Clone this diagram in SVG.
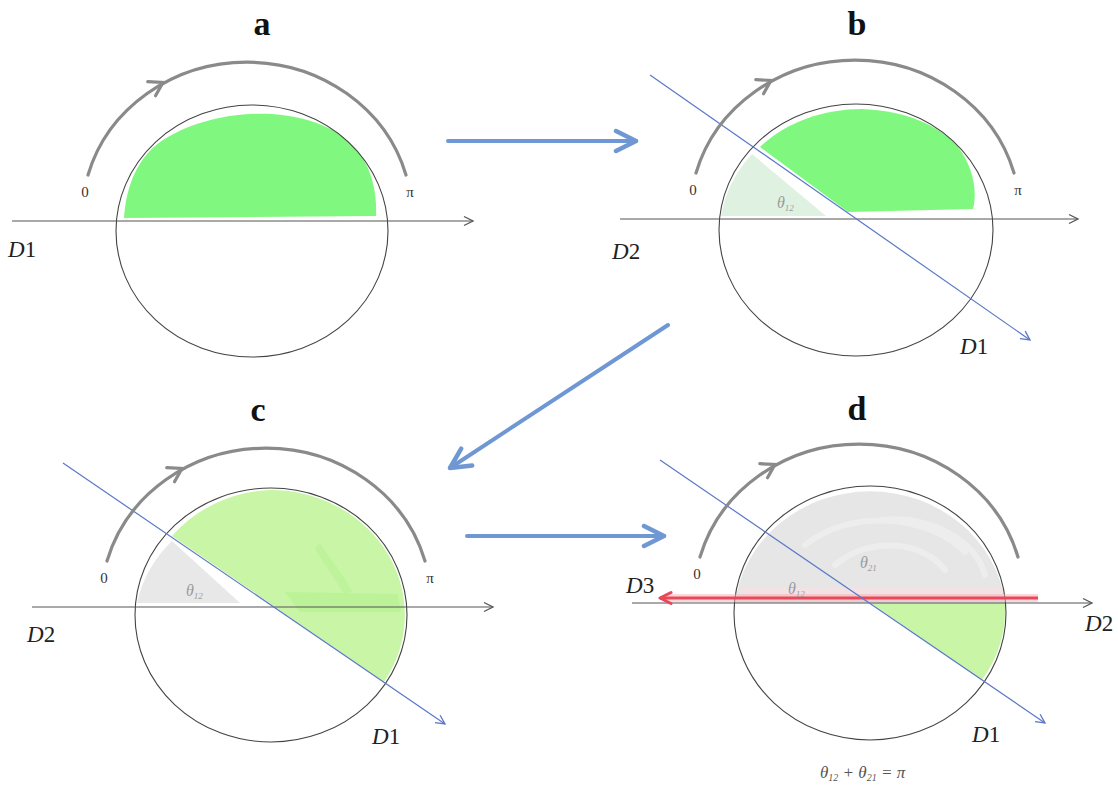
<svg xmlns="http://www.w3.org/2000/svg" width="1118" height="790" viewBox="0 0 1118 790">
<style>
.title{font-family:"Liberation Serif",serif;font-weight:bold;font-size:34px;fill:#111;text-anchor:middle}
.lbl{font-family:"Liberation Serif",serif;font-size:23px;fill:#222}
.tick{font-family:"Liberation Serif",serif;font-size:15px;fill:#333;text-anchor:middle}
.th{font-family:"Liberation Serif",serif;font-style:italic;font-size:16px;fill:#9a9a9a}
.eq{font-family:"Liberation Serif",serif;font-style:italic;font-size:17px;fill:#555}
.circ{fill:none;stroke:#444;stroke-width:1.1}
.axis{stroke:#555;stroke-width:1.2;fill:none;marker-end:url(#ax)}
.dline{stroke:#5a78c8;stroke-width:1.2;fill:none;marker-end:url(#bx)}
.rot{fill:none;stroke:#8a8a8a;stroke-width:3.2;stroke-linecap:round}
.flow{fill:none;stroke:#6f97d3;stroke-width:4;stroke-linecap:round;marker-end:url(#fa)}
.g1{fill:#80f87f}
.g2{fill:#c8f6a6}
</style>
<defs>
<marker id="ax" markerUnits="userSpaceOnUse" markerWidth="12" markerHeight="12" refX="10" refY="6" orient="auto"><path d="M1 1.5 L10 6 L1 10.5" fill="none" stroke="#555" stroke-width="1.3"/></marker>
<marker id="bx" markerUnits="userSpaceOnUse" markerWidth="12" markerHeight="12" refX="10" refY="6" orient="auto"><path d="M1 1.5 L10 6 L1 10.5" fill="none" stroke="#5a78c8" stroke-width="1.3"/></marker>
<marker id="ra" markerUnits="userSpaceOnUse" markerWidth="16" markerHeight="16" refX="13" refY="8" orient="auto"><path d="M2 2.5 L13 8 L2 13.5" fill="none" stroke="#e8485a" stroke-width="3" stroke-linejoin="round" stroke-linecap="round"/></marker>
<marker id="fa" markerUnits="userSpaceOnUse" markerWidth="30" markerHeight="30" refX="24" refY="13" orient="auto"><path d="M4 3 L24 13 L4 23" fill="none" stroke="#6f97d3" stroke-width="4.5" stroke-linejoin="round" stroke-linecap="round"/></marker>
<g id="rot">
<path class="rot" d="M -159 -46 A 165 154 0 0 1 159 -46"/>
<path class="rot" stroke-width="2.6" d="M -13 -8 L 0 0 L -13 8" transform="translate(-84 -138.6) rotate(-29)"/>
<text class="tick" x="-162" y="-24">0</text>
</g>
</defs>

<g id="panel-a">
<text class="title" x="262" y="35">a</text>
<path class="g1" d="M124 218 L376 216 C377 196 373 172 360 154 C344 132 315 117 272 114 C230 112 190 122 160 142 C138 158 126 185 124 218 Z"/>
<ellipse class="circ" cx="252" cy="231" rx="136" ry="126"/>
<line class="axis" x1="12" y1="221" x2="473" y2="221"/>
<use href="#rot" transform="translate(247 221)"/>
<text class="tick" x="410" y="197">π</text>
<text class="lbl" x="8" y="257"><tspan font-style="italic">D</tspan>1</text>
</g>

<g id="panel-b">
<text class="title" x="857" y="35">b</text>
<path fill="#dff2e2" d="M721 216 L826 216 L752 154 A137 126 0 0 0 721 216 Z"/>
<path class="g1" d="M760 147 L848 212 L973 209 C978 190 972 165 958 147 C938 124 905 111 862 109 C822 109 785 123 760 147 Z"/>
<ellipse class="circ" cx="856" cy="230" rx="137" ry="126"/>
<line class="axis" x1="620" y1="219" x2="1078" y2="219"/>
<line class="dline" x1="650" y1="75" x2="1030" y2="340"/>
<use href="#rot" transform="translate(855 219)"/>
<text class="tick" x="1018" y="195">π</text>
<text class="th" x="777" y="208">θ<tspan font-size="9" dy="3">12</tspan></text>
<text class="lbl" x="612" y="259"><tspan font-style="italic">D</tspan>2</text>
<text class="lbl" x="960" y="354"><tspan font-style="italic">D</tspan>1</text>
</g>

<g id="panel-c">
<text class="title" x="258" y="421">c</text>
<path fill="#e8e8e8" d="M137 603 L240 603 L172 541 A136 127 0 0 0 137 603 Z"/>
<path class="g2" d="M172 536 L384 682 A134 125 0 0 0 271 490 A134 125 0 0 0 172 536 Z"/>
<path fill="#b4f090" opacity="0.6" d="M285 592 L398 594 L401 612 L300 612 Z"/>
<path fill="#b4f090" opacity="0.5" d="M320 543 C330 560 345 575 352 592 L344 594 C335 578 322 562 315 548 Z"/>
<ellipse class="circ" cx="271" cy="615" rx="136" ry="127"/>
<line class="axis" x1="32" y1="607" x2="493" y2="607"/>
<line class="dline" x1="63" y1="463" x2="445" y2="724"/>
<use href="#rot" transform="translate(266 607)"/>
<text class="tick" x="430" y="583">π</text>
<text class="th" x="186" y="596">θ<tspan font-size="9" dy="3">12</tspan></text>
<text class="lbl" x="27" y="642"><tspan font-style="italic">D</tspan>2</text>
<text class="lbl" x="372" y="744"><tspan font-style="italic">D</tspan>1</text>
</g>

<g id="panel-d">
<text class="title" x="857" y="420">d</text>
<path fill="#e6e6e6" d="M735 603 A136 127 0 0 1 1005 603 Z"/>
<path fill="none" stroke="#ffffff" stroke-opacity="0.3" stroke-width="6" stroke-linecap="round" d="M805 545 C850 508 930 515 965 552 M835 565 C870 535 925 542 945 570 M880 520 C930 515 975 540 985 575"/>
<path fill="#f6dfe3" opacity="0.7" d="M740 588 L1003 588 L1004 596 L740 596 Z"/>
<path class="g2" d="M871 603 L982 680 A136 127 0 0 0 1005 603 Z"/>
<ellipse class="circ" cx="870" cy="613" rx="136" ry="127"/>
<line class="axis" x1="632" y1="603" x2="1092" y2="603"/>
<line stroke="#f5b0b8" stroke-opacity="0.5" stroke-width="8" x1="1038" y1="598" x2="664" y2="598"/>
<line stroke="#e8485a" stroke-width="3" x1="1038" y1="598" x2="660" y2="598" marker-end="url(#ra)"/>
<line class="dline" x1="660" y1="460" x2="1045" y2="723"/>
<use href="#rot" transform="translate(859 603)"/>
<text class="th" x="788" y="594">θ<tspan font-size="9" dy="3">12</tspan></text>
<text class="th" x="860" y="568">θ<tspan font-size="9" dy="3">21</tspan></text>
<text class="lbl" x="626" y="593"><tspan font-style="italic">D</tspan>3</text>
<text class="lbl" x="1085" y="631"><tspan font-style="italic">D</tspan>2</text>
<text class="lbl" x="972" y="742"><tspan font-style="italic">D</tspan>1</text>
<text class="eq" x="820" y="778">θ<tspan font-size="10" dy="3">12</tspan><tspan dy="-3"> + θ</tspan><tspan font-size="10" dy="3">21</tspan><tspan dy="-3"> = π</tspan></text>
</g>

<g id="connectors">
<line class="flow" x1="448" y1="141" x2="636" y2="141"/>
<line class="flow" x1="668" y1="325" x2="450" y2="468"/>
<line class="flow" x1="467" y1="536" x2="664" y2="536"/>
</g>
</svg>
